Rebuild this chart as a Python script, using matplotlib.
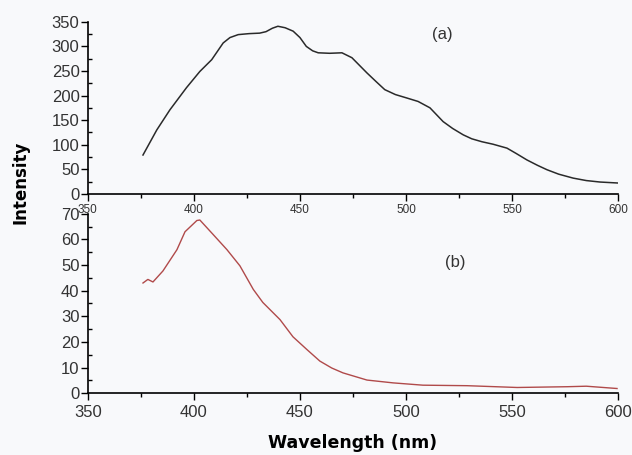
import matplotlib.pyplot as plt
from matplotlib.ticker import MultipleLocator

# Spectrum (a)
wl_a = [376, 382.5, 388.7, 396.5, 402.8, 408.4, 413.8, 417, 420.9, 426, 431, 434,
        437, 439.6, 443, 446.8, 450, 453, 456, 458.6, 464, 469.8, 474.5, 481.6,
        486, 490, 495, 500.4, 505.7, 511.3, 517.5, 522, 527, 531, 535.8, 541,
        547.6, 552, 557, 562, 566.5, 572, 578.8, 585, 591.5, 600]
int_a = [79, 130, 171, 216, 249, 273, 307, 318, 324, 326, 327, 330,
         337, 341, 338, 331, 318, 300, 291, 287, 286, 287, 277, 246,
         228, 212, 202, 195, 188, 175, 147, 133, 120, 112, 106, 101,
         93, 82, 69, 58, 49, 40, 32, 27, 24, 22]

# Spectrum (b)
wl_b = [376, 378.3, 380.7, 385.4, 392, 395.8, 401.4, 402.8, 409, 415.6, 421.7,
        428, 432.5, 440.6, 446.7, 453.3, 459.4, 465, 470.3, 481.6, 493.9, 508,
        528.8, 552.4, 576, 585, 599.5]
int_b = [43, 44.4, 43.4, 47.7, 56, 63, 67.4, 67.6, 62, 56, 49.7,
         40.5, 35.4, 28.7, 22, 17, 12.5, 9.8, 7.9, 5.1, 4.0, 3.1,
         2.9, 2.2, 2.5, 2.7, 1.8]

bg = '#f8f9fb'
tick_font = 'Liberation Sans'
fig = plt.figure(figsize=(6.32, 4.55), dpi=100, facecolor=bg)
ax1 = fig.add_axes([0.139, 0.574, 0.839, 0.378], facecolor=bg)
ax2 = fig.add_axes([0.139, 0.136, 0.839, 0.394], facecolor=bg)

ax1.plot(wl_a, int_a, color='#2a2a2a', linewidth=1.1)
ax2.plot(wl_b, int_b, color='#b04a4a', linewidth=1.0)

ax1.set_ylim(0, 350)
ax2.set_ylim(0, 70)
ax1.yaxis.set_major_locator(MultipleLocator(50))
ax1.yaxis.set_minor_locator(MultipleLocator(25))
ax2.yaxis.set_major_locator(MultipleLocator(10))
ax2.yaxis.set_minor_locator(MultipleLocator(5))

for ax in (ax1, ax2):
    ax.set_xlim(350, 600)
    ax.xaxis.set_major_locator(MultipleLocator(50))
    ax.xaxis.set_minor_locator(MultipleLocator(25))
    ax.spines['top'].set_visible(False)
    ax.spines['right'].set_visible(False)
    ax.spines['left'].set_linewidth(1.2)
    ax.spines['bottom'].set_linewidth(1.2)
    ax.tick_params(axis='y', which='major', direction='out', length=5, width=1, pad=1)
    ax.tick_params(axis='y', which='minor', direction='in', length=3, width=1)
    ax.tick_params(axis='x', which='both', direction='out', width=1)
    ax.tick_params(axis='x', which='major', length=5)
    ax.tick_params(axis='x', which='minor', length=3)

ax1.tick_params(axis='x', labelsize=8.5, pad=2, labelcolor='#333333')
ax1.tick_params(axis='y', labelsize=12, labelcolor='#333333')
ax2.tick_params(axis='both', labelsize=12, labelcolor='#333333')
for ax in (ax1, ax2):
    for lbl in ax.get_xticklabels() + ax.get_yticklabels():
        lbl.set_family(tick_font)

ax1.text(517, 324, '(a)', fontsize=12, ha='center', va='center', color='#333333',
         family=tick_font)
ax2.text(523, 51, '(b)', fontsize=12, ha='center', va='center', color='#333333',
         family=tick_font)

fig.text(0.032, 0.60, 'Intensity', rotation=90, fontsize=12, fontweight='bold',
         ha='center', va='center')
fig.text(0.558, 0.027, 'Wavelength (nm)', fontsize=12.5, fontweight='bold',
         ha='center', va='center')

plt.savefig('out.png', facecolor=bg)
